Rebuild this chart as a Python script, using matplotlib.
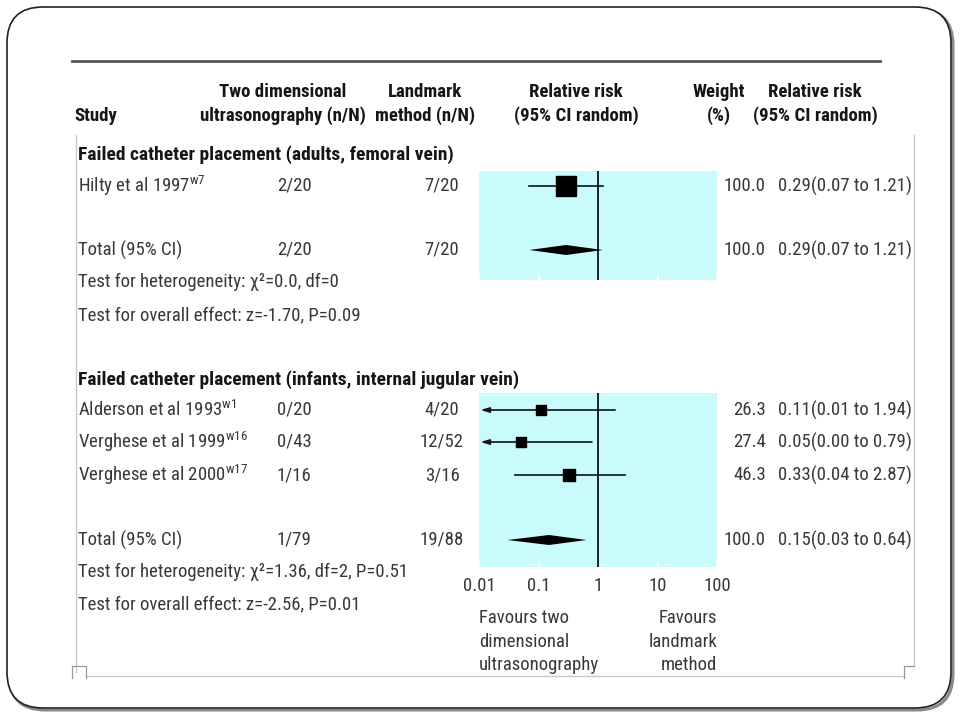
"""
Forest plot slide: two dimensional ultrasonography vs landmark method
for failed catheter placement, redrawn on a rounded slide frame.
"""

import matplotlib
matplotlib.use("Agg")

import matplotlib.pyplot as plt
from matplotlib import font_manager
from matplotlib.patches import FancyBboxPatch
from matplotlib.ticker import FixedLocator, FixedFormatter, NullLocator

# ---- data ---------------------------------------------------------------
group_titles = [
    "Failed catheter placement (adults, femoral vein)",
    "Failed catheter placement (infants, internal jugular vein)",
]

# adults, femoral vein
g1_studies = ["Hilty et al 1997"]
g1_refs = ["w7"]
g1_us = ["2/20"]
g1_lm = ["7/20"]
g1_rr = [0.29]
g1_lo = [0.07]
g1_hi = [1.21]
g1_weight = [100.0]
g1_total = {"us": "2/20", "lm": "7/20", "rr": 0.29, "lo": 0.07, "hi": 1.21, "w": 100.0}
g1_tests = ["Test for heterogeneity: χ²=0.0, df=0",
            "Test for overall effect: z=-1.70, P=0.09"]

# infants, internal jugular vein
g2_studies = ["Alderson et al 1993", "Verghese et al 1999", "Verghese et al 2000"]
g2_refs = ["w1", "w16", "w17"]
g2_us = ["0/20", "0/43", "1/16"]
g2_lm = ["4/20", "12/52", "3/16"]
g2_rr = [0.11, 0.05, 0.33]
g2_lo = [0.01, 0.00, 0.04]
g2_hi = [1.94, 0.79, 2.87]
g2_weight = [26.3, 27.4, 46.3]
g2_total = {"us": "1/79", "lm": "19/88", "rr": 0.15, "lo": 0.03, "hi": 0.64, "w": 100.0}
g2_tests = ["Test for heterogeneity: χ²=1.36, df=2, P=0.51",
            "Test for overall effect: z=-2.56, P=0.01"]

axis_ticks = [0.01, 0.1, 1, 10, 100]
axis_labels = ["0.01", "0.1", "1", "10", "100"]
xmin, xmax = 0.01, 100

# ---- style ----------------------------------------------------------------
def pick_font():
    have = {f.name for f in font_manager.fontManager.ttflist}
    for name in ["Liberation Sans Narrow", "Roboto Condensed", "Open Sans Condensed",
                 "Liberation Sans", "DejaVu Sans"]:
        if name in have:
            return name
    return "DejaVu Sans"

FONT = pick_font()
plt.rcParams["font.family"] = [FONT, "DejaVu Sans"]
plt.rcParams["mathtext.fontset"] = "custom"
plt.rcParams["mathtext.rm"] = FONT
plt.rcParams["mathtext.it"] = FONT + ":italic"
plt.rcParams["mathtext.bf"] = FONT + ":bold"

TXT = "#383838"
HEAD = "#161616"
CYAN = "#c9fafc"
INK = "#111111"
FS = 13.5

W, H = 960, 720
fig = plt.figure(figsize=(W / 100, H / 100), dpi=100)
base = fig.add_axes([0, 0, 1, 1])
base.set_xlim(0, W)
base.set_ylim(H, 0)
base.axis("off")

# slide frame: shadow + rounded border
base.add_patch(FancyBboxPatch((9, 9), 944, 701, boxstyle="round,pad=0,rounding_size=36",
                              facecolor="none", edgecolor="#8a8a8a", linewidth=2.2))
base.add_patch(FancyBboxPatch((7, 7), 944, 701, boxstyle="round,pad=0,rounding_size=36",
                              facecolor="white", edgecolor="#222222", linewidth=1.2))

# picture frame (light grey) and corner marks
base.plot([76, 76], [135, 672], color="#c8c8c8", lw=1.0)
base.plot([914, 914], [135, 666], color="#c8c8c8", lw=1.0)
base.plot([86, 904], [676, 676], color="#c8c8c8", lw=1.0)
base.plot([72, 72, 86, 86], [678, 666, 666, 678], color="#999999", lw=0.9)
base.plot([904, 904, 914], [678, 666, 666], color="#999999", lw=0.9)

# top rule
base.plot([72, 880], [61, 61], color="#555555", lw=2.0)

# ---- column headers ----------------------------------------------------
hdr = dict(fontsize=FS, fontweight="bold", color=HEAD, va="center")
base.text(74, 116, "Study", ha="left", **hdr)
base.text(283, 92, "Two dimensional", ha="center", **hdr)
base.text(283, 116, "ultrasonography (n/N)", ha="center", **hdr)
base.text(425, 92, "Landmark", ha="center", **hdr)
base.text(425, 116, "method (n/N)", ha="center", **hdr)
base.text(576, 92, "Relative risk", ha="center", **hdr)
base.text(576, 116, "(95% CI random)", ha="center", **hdr)
base.text(719, 92, "Weight", ha="center", **hdr)
base.text(719, 116, "(%)", ha="center", **hdr)
base.text(815, 92, "Relative risk", ha="center", **hdr)
base.text(815, 116, "(95% CI random)", ha="center", **hdr)

# column x positions
X_STUDY, X_US, X_LM, X_W, X_RR = 78, 277, 442, 766, 912
# forest panel horizontal extent (pixels)
PX0, PX1 = 479, 717

body = dict(fontsize=FS, color=TXT, va="center")


def row_text(y, label, us, lm, w, rr, lo, hi):
    base.text(X_STUDY, y, label, ha="left", **body)
    base.text(X_US, y, us, ha="left", **body)
    base.text(X_LM, y, lm, ha="center", **body)
    base.text(X_W, y, f"{w:.1f}", ha="right", **body)
    base.text(X_RR, y, f"{rr:.2f}({lo:.2f} to {hi:.2f})", ha="right", **body)


def panel(top, bottom, show_ticks):
    ax = fig.add_axes([PX0 / W, 1 - bottom / H, (PX1 - PX0) / W, (bottom - top) / H])
    ax.set_xscale("log")
    ax.set_xlim(xmin, xmax)
    ax.set_ylim(bottom, top)
    ax.set_facecolor(CYAN)
    for s in ax.spines.values():
        s.set_visible(False)
    ax.xaxis.set_major_locator(FixedLocator(axis_ticks))
    ax.xaxis.set_minor_locator(NullLocator())
    ax.xaxis.set_major_formatter(FixedFormatter(axis_labels if show_ticks else [""] * 5))
    ax.tick_params(axis="x", direction="in", length=4, width=1.2, color="white",
                   labelsize=FS, labelcolor=TXT, pad=7)
    ax.set_yticks([])
    ax.axvline(1, color="#222222", lw=1.4, zorder=4)
    return ax


def study_mark(ax, y, rr, lo, hi, w):
    left = max(lo, xmin)
    if lo <= xmin:
        ax.annotate("", xy=(xmin * 1.06, y), xytext=(hi, y),
                    arrowprops=dict(arrowstyle="-|>,head_length=0.5,head_width=0.15",
                                    color=INK, lw=1.2, shrinkA=0, shrinkB=0), zorder=5)
    else:
        ax.plot([left, hi], [y, y], color=INK, lw=1.2, zorder=5)
    ax.plot([rr], [y], marker="s", markersize=13.7 * (w / 100) ** 0.5,
            color="black", linestyle="None", zorder=6)


def diamond(ax, y, rr, lo, hi, half=5):
    ax.fill([lo, rr, hi, rr], [y, y - half, y, y + half], color="black",
            lw=0, zorder=6)


def group(title, y_title, studies, refs, us, lm, rr, lo, hi, weight, total,
          tests, ys, y_total, y_tests, box, show_ticks):
    base.text(X_STUDY, y_title, title, ha="left", fontsize=FS + 0.5, fontweight="bold",
              color=HEAD, va="center")
    ax = panel(box[0], box[1], show_ticks)
    for i, name in enumerate(studies):
        label = name + r"$^{\mathrm{" + refs[i] + "}}$"
        row_text(ys[i], label, us[i], lm[i], weight[i], rr[i], lo[i], hi[i])
        study_mark(ax, ys[i], rr[i], lo[i], hi[i], weight[i])
    row_text(y_total, "Total (95% CI)", total["us"], total["lm"], total["w"],
             total["rr"], total["lo"], total["hi"])
    diamond(ax, y_total, total["rr"], total["lo"], total["hi"])
    for t, yt in zip(tests, y_tests):
        base.text(X_STUDY, yt, t, ha="left", **body)
    return ax


group(group_titles[0], 155, g1_studies, g1_refs, g1_us, g1_lm, g1_rr, g1_lo, g1_hi,
      g1_weight, g1_total, g1_tests, [186], 250, [282, 315], (171, 280), False)
group(group_titles[1], 380, g2_studies, g2_refs, g2_us, g2_lm, g2_rr, g2_lo, g2_hi,
      g2_weight, g2_total, g2_tests, [410, 442, 475], 540, [572, 604], (393, 567), True)

fav = dict(fontsize=FS, color=TXT, va="top", linespacing=1.4)
base.text(PX0, 609, "Favours two\ndimensional\nultrasonography", ha="left", **fav)
base.text(PX1, 609, "Favours\nlandmark\nmethod", ha="right", multialignment="right", **fav)

fig.savefig("out.png", dpi=100)
